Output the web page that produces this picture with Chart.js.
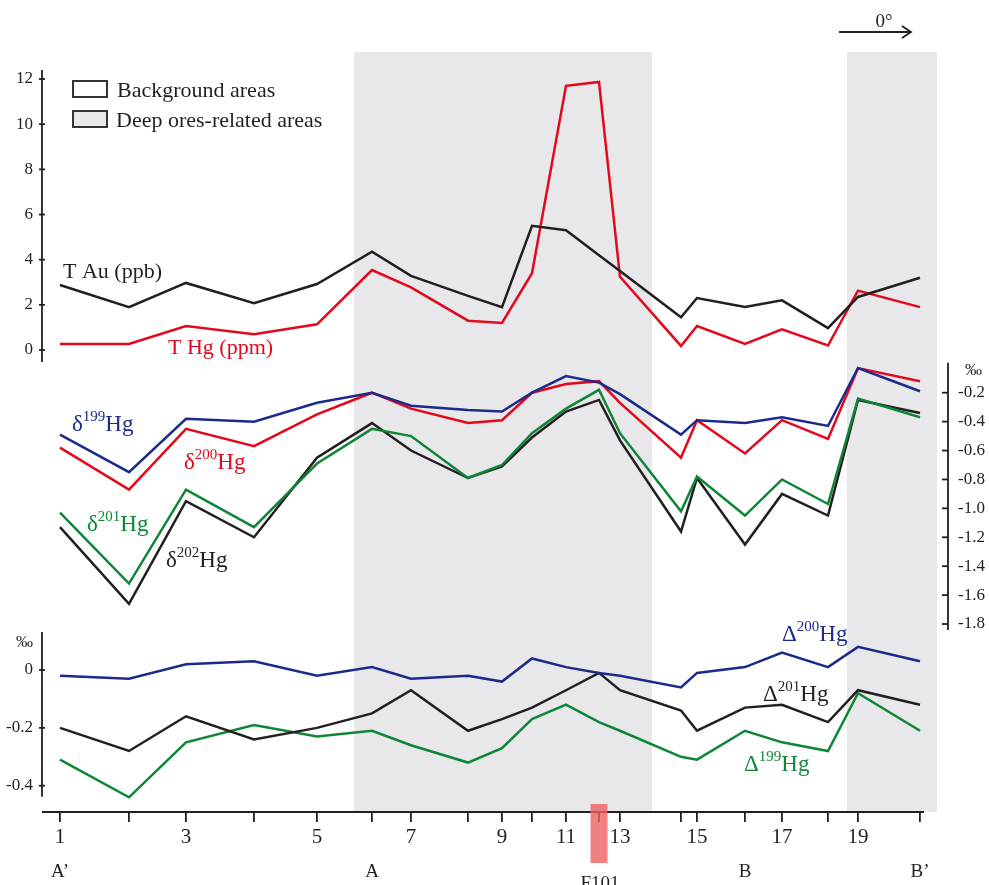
<!DOCTYPE html>
<html>
<head>
<meta charset="utf-8">
<script src="https://cdn.jsdelivr.net/npm/chart.js@4.4.1/dist/chart.umd.min.js"></script>
<style>
  html, body { margin: 0; padding: 0; background: #fff; }
  #wrap { position: relative; width: 989px; height: 885px; }
</style>
</head>
<body>
<div id="wrap"><canvas id="hg-chart"></canvas></div>
<script>
// samples along the A'-A-B-B' profile
const sampleNo = [1, 2, 3, 4, 5, 6, 7, 8, 9, 10, 11, 12, 13, 14, 15, 16, 17, 18, 19, 20];
// position of each sample along the profile (arbitrary units)
const sampleDist = [0, 69, 126, 194, 257, 312, 351, 408, 442, 472, 506, 539, 560, 621, 637, 685, 722, 768, 798, 860];

// top panel
const tAu = [2.88, 1.9, 2.97, 2.07, 2.92, 4.35, 3.28, 2.4, 1.9, 5.5, 5.3, 4.2, 3.5, 1.45, 2.3, 1.9, 2.2, 0.97, 2.35, 3.2];
const tHg = [0.27, 0.27, 1.06, 0.7, 1.14, 3.54, 2.77, 1.3, 1.2, 3.4, 11.7, 11.87, 3.24, 0.18, 1.06, 0.27, 0.92, 0.2, 2.63, 1.9];

// middle panel (‰)
const d199 = [-0.49, -0.75, -0.38, -0.4, -0.27, -0.2, -0.29, -0.32, -0.33, -0.2, -0.085, -0.13, -0.21, -0.49, -0.39, -0.41, -0.37, -0.43, -0.03, -0.19];
const d200 = [-0.58, -0.87, -0.45, -0.57, -0.35, -0.2, -0.31, -0.41, -0.39, -0.2, -0.14, -0.12, -0.27, -0.65, -0.39, -0.62, -0.39, -0.52, -0.03, -0.12];
const d201 = [-1.03, -1.52, -0.87, -1.13, -0.69, -0.45, -0.5, -0.79, -0.7, -0.48, -0.31, -0.18, -0.48, -1.02, -0.78, -1.05, -0.8, -0.97, -0.24, -0.37];
const d202 = [-1.13, -1.66, -0.95, -1.2, -0.65, -0.41, -0.6, -0.79, -0.71, -0.51, -0.33, -0.25, -0.53, -1.16, -0.79, -1.25, -0.9, -1.05, -0.25, -0.34];

// bottom panel (‰)
const cap200 = [-0.02, -0.03, 0.02, 0.03, -0.02, 0.01, -0.03, -0.02, -0.04, 0.04, 0.01, -0.01, -0.02, -0.06, -0.01, 0.01, 0.06, 0.01, 0.08, 0.03];
const cap201 = [-0.2, -0.28, -0.16, -0.24, -0.2, -0.15, -0.07, -0.21, -0.17, -0.13, -0.07, -0.01, -0.07, -0.14, -0.21, -0.13, -0.12, -0.18, -0.07, -0.12];
const cap199 = [-0.31, -0.44, -0.25, -0.19, -0.23, -0.21, -0.26, -0.32, -0.27, -0.17, -0.12, -0.18, -0.21, -0.3, -0.31, -0.21, -0.25, -0.28, -0.08, -0.21];

// deep ores-related areas (profile units)
const zoneFrom = [294, 787];
const zoneTo = [592, 877];

// tick labels
const auTicks = [0, 2, 4, 6, 8, 10, 12];
const deltaTicks = [-0.2, -0.4, -0.6, -0.8, -1.0, -1.2, -1.4, -1.6, -1.8];
const capTicks = [0, -0.2, -0.4];

const sectionNames = ["A’", "A", "B", "B’"];
const sectionAt = [1, 6, 16, 20];
const faultName = "F101";
const faultAt = 12;

const RED = "#e3081b", BLUE = "#1c2a8a", GREEN = "#0d8638", BLACK = "#231f20", SHADE = "#e8e8ea";
const SERIF = "'Liberation Serif', 'DejaVu Serif', serif";

function pts(vals) {
  return vals.map((v, i) => ({ x: sampleDist[i], y: v }));
}
function line(label, vals, color, axis) {
  return { label: label, data: pts(vals), borderColor: color, borderWidth: 2.5,
           pointRadius: 0, tension: 0, yAxisID: axis, fill: false };
}

function isoLabel(ctx, pre, mass, x, y, color) {
  ctx.fillStyle = color;
  ctx.textAlign = "left";
  ctx.textBaseline = "alphabetic";
  ctx.font = "23px " + SERIF;
  ctx.fillText(pre, x, y);
  let w = ctx.measureText(pre).width;
  ctx.font = "15px " + SERIF;
  ctx.fillText(mass, x + w, y - 10);
  w += ctx.measureText(mass).width;
  ctx.font = "23px " + SERIF;
  ctx.fillText("Hg", x + w, y);
}

const decor = {
  id: "decor",
  beforeDatasetsDraw(chart) {
    const ctx = chart.ctx, a = chart.chartArea, xs = chart.scales.x;
    ctx.save();
    ctx.fillStyle = SHADE;
    for (let i = 0; i < zoneFrom.length; i++) {
      const x1 = xs.getPixelForValue(zoneFrom[i]), x2 = xs.getPixelForValue(zoneTo[i]);
      ctx.fillRect(x1, a.top, x2 - x1, a.bottom - a.top);
    }
    ctx.restore();
  },
  afterDraw(chart) {
    const ctx = chart.ctx, a = chart.chartArea, s = chart.scales;
    const xs = s.x, yAu = s.yAu, yD = s.yDelta, yC = s.yCap;
    ctx.save();
    ctx.strokeStyle = BLACK;
    ctx.fillStyle = BLACK;
    ctx.lineWidth = 1.8;

    // x axis line
    ctx.beginPath();
    ctx.moveTo(a.left, a.bottom);
    ctx.lineTo(xs.getPixelForValue(sampleDist[sampleDist.length - 1]) + 4, a.bottom);
    ctx.stroke();

    // top left axis
    ctx.beginPath();
    ctx.moveTo(a.left, yAu.getPixelForValue(12) - 9);
    ctx.lineTo(a.left, yAu.getPixelForValue(0) + 12);
    ctx.stroke();
    ctx.font = "17px " + SERIF;
    ctx.textAlign = "right";
    ctx.textBaseline = "middle";
    auTicks.forEach(v => {
      const y = yAu.getPixelForValue(v);
      ctx.beginPath(); ctx.moveTo(a.left - 3, y); ctx.lineTo(a.left + 3, y); ctx.stroke();
      ctx.fillText(String(v), a.left - 9, y);
    });

    // bottom left axis
    ctx.beginPath();
    ctx.moveTo(a.left, yC.getPixelForValue(0) - 38);
    ctx.lineTo(a.left, yC.getPixelForValue(-0.4) + 11);
    ctx.stroke();
    capTicks.forEach(v => {
      const y = yC.getPixelForValue(v);
      ctx.beginPath(); ctx.moveTo(a.left - 3, y); ctx.lineTo(a.left + 3, y); ctx.stroke();
      ctx.fillText(v === 0 ? "0" : v.toFixed(1), a.left - 9, y);
    });
    ctx.textAlign = "left";
    ctx.fillText("‰", 16, yC.getPixelForValue(0) - 27);

    // right axis (middle panel)
    const rx = a.right;
    ctx.beginPath();
    ctx.moveTo(rx, yD.getPixelForValue(-0.2) - 30);
    ctx.lineTo(rx, yD.getPixelForValue(-1.8) + 6);
    ctx.stroke();
    deltaTicks.forEach(v => {
      const y = yD.getPixelForValue(v);
      ctx.beginPath(); ctx.moveTo(rx - 6, y); ctx.lineTo(rx, y); ctx.stroke();
      ctx.fillText(v.toFixed(1), rx + 10, y);
    });
    ctx.fillText("‰", rx + 17, yD.getPixelForValue(-0.2) - 22);

    // legend
    ctx.lineWidth = 1.8;
    ctx.fillStyle = "#fff";
    ctx.fillRect(73, 81, 34, 16);
    ctx.strokeRect(73, 81, 34, 16);
    ctx.fillStyle = SHADE;
    ctx.fillRect(73, 111, 34, 16);
    ctx.strokeRect(73, 111, 34, 16);
    ctx.fillStyle = BLACK;
    ctx.font = "22px " + SERIF;
    ctx.textBaseline = "alphabetic";
    ctx.fillText("Background areas", 117, 97);
    ctx.fillText("Deep ores-related areas", 116, 127);

    // series labels
    ctx.font = "22px " + SERIF;
    ctx.fillStyle = BLACK;
    ctx.fillText("T Au (ppb)", 63, 278);
    ctx.fillStyle = RED;
    ctx.fillText("T Hg (ppm)", 168, 354);
    isoLabel(ctx, "δ", "199", 72, 431, BLUE);
    isoLabel(ctx, "δ", "200", 184, 469, RED);
    isoLabel(ctx, "δ", "201", 87, 531, GREEN);
    isoLabel(ctx, "δ", "202", 166, 567, BLACK);
    isoLabel(ctx, "Δ", "200", 782, 641, BLUE);
    isoLabel(ctx, "Δ", "201", 763, 701, BLACK);
    isoLabel(ctx, "Δ", "199", 744, 771, GREEN);

    // direction arrow
    ctx.strokeStyle = BLACK;
    ctx.lineWidth = 1.8;
    ctx.beginPath();
    ctx.moveTo(839, 32); ctx.lineTo(911, 32);
    ctx.moveTo(902, 26); ctx.lineTo(911, 32); ctx.lineTo(902, 38);
    ctx.stroke();
    ctx.fillStyle = BLACK;
    ctx.font = "19px " + SERIF;
    ctx.textAlign = "center";
    ctx.fillText("0°", 884, 27);

    // section letters
    ctx.font = "19px " + SERIF;
    sectionNames.forEach((n, i) => {
      ctx.fillText(n, xs.getPixelForValue(sampleDist[sectionAt[i] - 1]), 877);
    });

    // fault
    const fx = xs.getPixelForValue(sampleDist[faultAt - 1]);
    ctx.fillStyle = "rgba(240, 96, 96, 0.8)";
    ctx.fillRect(fx - 8.5, a.bottom - 8, 17, 59);
    ctx.fillStyle = BLACK;
    ctx.fillText(faultName, fx + 1, 889);
    ctx.restore();
  }
};

const ctx = document.getElementById("hg-chart");
new Chart(ctx, {
  type: "line",
  data: {
    datasets: [
      line("T Au (ppb)", tAu, BLACK, "yAu"),
      line("T Hg (ppm)", tHg, RED, "yAu"),
      line("δ199Hg", d199, BLUE, "yDelta"),
      line("δ200Hg", d200, RED, "yDelta"),
      line("δ201Hg", d201, GREEN, "yDelta"),
      line("δ202Hg", d202, BLACK, "yDelta"),
      line("Δ200Hg", cap200, BLUE, "yCap"),
      line("Δ201Hg", cap201, BLACK, "yCap"),
      line("Δ199Hg", cap199, GREEN, "yCap"),
    ],
  },
  options: {
    responsive: true,
    maintainAspectRatio: false,
    animation: false,
    layout: { padding: { top: 52, left: 42, right: 41, bottom: 0 } },
    plugins: { legend: { display: false }, tooltip: { enabled: false } },
    scales: {
      x: {
        type: "linear",
        min: sampleDist[0] - 18,
        max: sampleDist[sampleDist.length - 1] + 28,
        afterBuildTicks: (sc) => { sc.ticks = sampleDist.map(v => ({ value: v })); },
        afterFit: (sc) => { sc.height = 73; },
        ticks: {
          autoSkip: false,
          maxRotation: 0,
          padding: 3,
          color: BLACK,
          font: { family: SERIF, size: 21 },
          callback: (v, i) => (i % 2 === 0 ? String(sampleNo[i]) : ""),
        },
        grid: { drawOnChartArea: false, drawTicks: true, tickLength: 10, color: BLACK, lineWidth: 1.8 },
        border: { display: false },
      },
      // each panel's axis spans the whole plot height, its range chosen to put the panel in its band
      yAu: { type: "linear", display: false, min: -20.457, max: 13.196 },
      yDelta: { type: "linear", display: false, min: -3.1005, max: 2.157 },
      yCap: { type: "linear", display: false, min: -0.4909, max: 2.1366 },
    },
  },
  plugins: [decor],
});
</script>
</body>
</html>
